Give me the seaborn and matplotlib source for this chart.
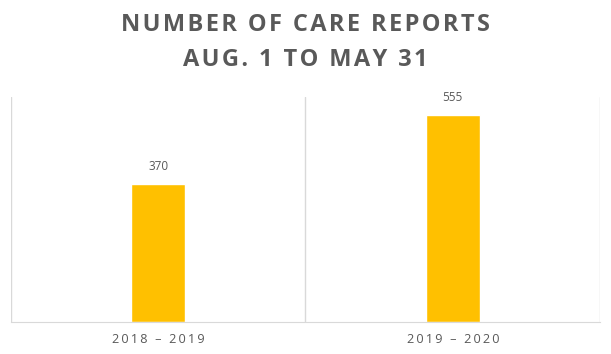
import pandas as pd
import matplotlib.pyplot as plt
import seaborn as sns

# Data
seasons = ['2018 \u2013 2019', '2019 \u2013 2020']
reports = [370, 555]

df = pd.DataFrame({'season': seasons, 'reports': reports})

sns.set_style('white')
plt.rcParams['font.family'] = ['Open Sans', 'DejaVu Sans']

grey = '#595959'
line_grey = '#d9d9d9'


def spaced(s, gap):
    # fake letter spacing by putting a narrow space between characters
    return gap.join(s)


fig = plt.figure(figsize=(6.11, 3.54), dpi=100)
ax = fig.add_axes([0.018, 0.09, 0.964, 0.636])

sns.barplot(data=df, x='season', y='reports', color='#ffc000', width=0.185,
            saturation=1, ax=ax)

# value labels
for container in ax.containers:
    ax.bar_label(container, padding=8, color=grey, fontsize=8.5)

ax.set_xlim(-0.5, 1.5)
ax.set_ylim(0, 603)
ax.set_yticks([])
ax.set_xlabel('')
ax.set_ylabel('')

# category separators
for x in [-0.5, 0.5, 1.5]:
    ax.axvline(x, color=line_grey, linewidth=1, zorder=0)

for side in ['top', 'left', 'right']:
    ax.spines[side].set_visible(False)
ax.spines['bottom'].set_color(line_grey)

ax.set_xticks(range(len(seasons)))
ax.set_xticklabels([spaced(s, '\u2009') for s in seasons], color=grey, fontsize=9.2)
ax.tick_params(axis='x', length=0, pad=8)

fig.text(0.5, 0.93, spaced('NUMBER OF CARE REPORTS', '\u200a'), ha='center', va='center',
         fontsize=17, fontweight='bold', color=grey)
fig.text(0.5, 0.83, spaced('AUG. 1 TO MAY 31', '\u200a'), ha='center', va='center',
         fontsize=17, fontweight='bold', color=grey)

fig.savefig('out.png', dpi=100)
